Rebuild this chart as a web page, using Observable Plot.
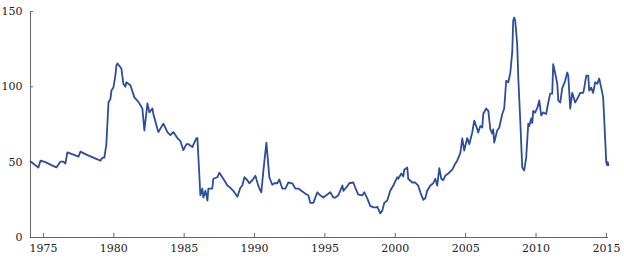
<!DOCTYPE html>
<html>
<head>
<meta charset="utf-8">
<script src="https://cdn.jsdelivr.net/npm/d3@7"></script>
<script src="https://cdn.jsdelivr.net/npm/@observablehq/plot@0.6"></script>
<style>
  html, body { margin: 0; padding: 0; background: #fff; }
</style>
</head>
<body>
<div id="chart"></div>
<script>
const years = [
  1974.08, 1974.64, 1974.79, 1975.14, 1975.57, 1975.92, 1976.21, 1976.42, 1976.56, 1976.70,
  1977.13, 1977.49, 1977.63, 1978.05, 1978.55, 1979.05, 1979.19, 1979.33, 1979.47, 1979.62,
  1979.76, 1979.83, 1979.97, 1980.11, 1980.18, 1980.26, 1980.47, 1980.54, 1980.68, 1980.82,
  1980.89, 1981.18, 1981.25, 1981.46, 1981.75, 1982.03, 1982.17, 1982.39, 1982.53, 1982.74,
  1982.81, 1983.10, 1983.17, 1983.52, 1983.81, 1984.02, 1984.23, 1984.52, 1984.73, 1984.94,
  1985.16, 1985.30, 1985.58, 1985.87, 1985.94, 1986.15, 1986.29, 1986.36, 1986.51, 1986.65,
  1986.72, 1987.00, 1987.07, 1987.36, 1987.50, 1987.78, 1988.07, 1988.28, 1988.49, 1988.78,
  1988.99, 1989.13, 1989.28, 1989.49, 1989.63, 1989.84, 1990.06, 1990.20, 1990.34, 1990.48,
  1990.63, 1990.84, 1990.91, 1991.05, 1991.26, 1991.41, 1991.62, 1991.76, 1991.97, 1992.19,
  1992.40, 1992.68, 1992.90, 1993.11, 1993.40, 1993.61, 1993.82, 1993.96, 1994.18, 1994.46,
  1994.67, 1994.89, 1995.17, 1995.38, 1995.60, 1995.74, 1995.95, 1996.24, 1996.31, 1996.59,
  1996.73, 1997.02, 1997.16, 1997.37, 1997.66, 1997.80, 1998.01, 1998.22, 1998.44, 1998.65,
  1998.72, 1998.93, 1999.08, 1999.22, 1999.43, 1999.64, 1999.86, 2000.14, 2000.21, 2000.43,
  2000.57, 2000.64, 2000.85, 2000.92, 2001.21, 2001.42, 2001.63, 2001.78, 2001.99, 2002.13,
  2002.27, 2002.49, 2002.70, 2002.84, 2002.98, 2003.13, 2003.27, 2003.41, 2003.55, 2003.76,
  2004.05, 2004.26, 2004.40, 2004.62, 2004.76, 2004.90, 2005.11, 2005.26, 2005.47, 2005.61,
  2005.82, 2005.89, 2006.04, 2006.18, 2006.25, 2006.46, 2006.61, 2006.75, 2006.89, 2006.96,
  2007.03, 2007.24, 2007.39, 2007.60, 2007.74, 2007.88, 2008.03, 2008.17, 2008.31, 2008.38,
  2008.45, 2008.52, 2008.66, 2008.74, 2008.88, 2009.02, 2009.16, 2009.30, 2009.45, 2009.52,
  2009.66, 2009.73, 2009.80, 2009.94, 2010.09, 2010.23, 2010.37, 2010.51, 2010.72, 2010.87,
  2011.01, 2011.15, 2011.22, 2011.36, 2011.51, 2011.58, 2011.72, 2011.86, 2012.07, 2012.22,
  2012.29, 2012.43, 2012.57, 2012.64, 2012.78, 2012.93, 2013.14, 2013.35, 2013.42, 2013.57,
  2013.71, 2013.78, 2013.92, 2014.06, 2014.20, 2014.35, 2014.49, 2014.63, 2014.77, 2014.84,
  2014.99, 2015.06, 2015.10, 2015.14
];
const prices = [
  50.4, 46.5, 51, 50, 48, 46.5, 50.4, 50.4, 49, 56.5,
  55, 53.7, 57, 55, 53, 51, 53, 53, 62, 89.6,
  92, 97.5, 99.5, 107.5, 114, 115.5, 113, 112, 102, 100,
  103, 101, 99, 93, 90, 85.6, 71, 89, 83, 85.6,
  82, 72, 70, 75.6, 70, 68, 70, 66, 64, 58,
  62, 62, 60, 66, 66, 28, 32.5, 26.5, 31, 24.5,
  32.5, 32.5, 39, 40, 43, 39, 34.5, 33, 31, 27,
  33, 34.5, 40, 38, 36, 38, 41, 36.5, 32.5, 30,
  44.5, 63, 55.7, 40, 35, 36, 36, 38.5, 32.5, 32.5,
  36.5, 36, 32.5, 32.5, 30.5, 29, 28, 23, 23, 30,
  28, 26.5, 28.5, 30, 26.5, 26.5, 28, 34.5, 31, 34,
  36, 36.5, 33, 28.5, 28, 30, 26, 21, 20, 20,
  20.5, 16, 18, 23, 24.5, 31, 34.5, 40, 39, 42.5,
  40.5, 45, 46.5, 39, 36.5, 36.5, 34.5, 30, 25, 26,
  31, 34.5, 36, 39, 34.5, 46, 39, 38, 41, 42.5,
  45, 49, 51, 56, 65.7, 57.7, 66, 62, 69.7, 77.6,
  72, 69.7, 74, 73, 82, 85.6, 84, 72, 69, 71.7,
  63, 71, 73, 82, 85.6, 104, 103, 109, 123, 144,
  146, 144, 128.7, 106, 77.6, 46.5, 44.5, 53, 75.6, 74,
  79, 76, 84, 83, 86, 91, 81, 83, 82, 89.6,
  95.5, 95.5, 115, 109, 102, 91, 89.6, 99, 104, 109.5,
  107.5, 85.6, 96, 94, 89.6, 92, 96, 96, 99, 107.5,
  107.5, 97.5, 99.5, 96, 103, 102, 105.5, 99.5, 93, 79.6,
  50, 48, 50, 48
];
const xTicks = [1975, 1980, 1985, 1990, 1995, 2000, 2005, 2010, 2015];
const yTicks = [0, 50, 100, 150];
const xDomain = [1974.08, 2015.15];
const yDomain = [0, 150];

const data = years.map((t, i) => ({t, v: prices[i]}));
const axisColor = "#666";

const chart = Plot.plot({
  width: 624,
  height: 259,
  marginLeft: 30,
  marginRight: 16,
  marginTop: 11,
  marginBottom: 22,
  style: {fontFamily: "DejaVu Serif", fontSize: "11px", color: "#222", background: "#fff"},
  x: {domain: xDomain},
  y: {domain: yDomain},
  marks: [
    Plot.axisX({ticks: xTicks, tickFormat: d => String(d), tickSize: 0, tickPadding: 7, label: null}),
    Plot.axisY({ticks: yTicks, tickSize: 0, tickPadding: 8, label: null}),
    // inward tick marks
    Plot.ruleX(xTicks, {y1: yDomain[0], y2: 2.7, stroke: axisColor}),
    Plot.ruleY(yTicks, {x1: xDomain[0], x2: xDomain[0] + 0.22, stroke: axisColor}),
    Plot.ruleY([yDomain[0]], {stroke: axisColor}),
    Plot.ruleX([xDomain[0]], {stroke: axisColor}),
    Plot.line(data, {x: "t", y: "v", stroke: "#2c4c9c", strokeWidth: 1.8, strokeLinejoin: "round"})
  ]
});
document.getElementById("chart").append(chart);
</script>
</body>
</html>
